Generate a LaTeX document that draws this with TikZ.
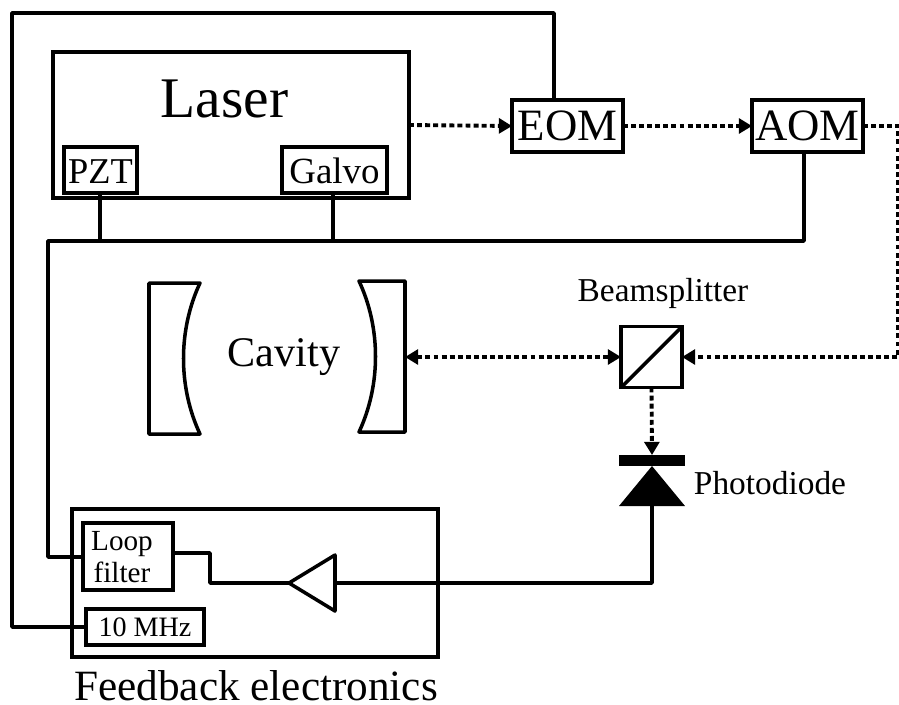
\documentclass[tikz,border=0pt]{standalone}
\usepackage{fontspec}
\setmainfont{Liberation Serif}
\usetikzlibrary{arrows.meta}

\begin{document}
\begin{tikzpicture}[x=0.02cm, y=-0.02cm]%
	\tikzstyle{box}=[rectangle, draw=black, line width=2pt, outer sep=0pt, inner sep=0pt];
	\tikzstyle{wire}=[draw=black, line width=2pt, line join=round];
	\tikzstyle{beam}=[draw=black, line width=2.2pt, dash pattern=on 2.8pt off 1.8pt, -{Triangle[length=7.5pt, width=8.5pt]}];
	\tikzstyle{twobeam}=[beam, {Triangle[length=7.5pt, width=8.5pt]}-{Triangle[length=7.5pt, width=8.5pt]}];
	\useasboundingbox (0, 0) rectangle (899, 704);
	\node[minimum width=7.12cm, minimum height=2.92cm] at (231, 125) [box] (laser) {};
	\node[font=\fontsize{32.7}{34}\selectfont] at (224.5, 99) (lasertext) {Laser};
	\node[minimum width=1.46cm, minimum height=0.92cm, text height=15.9pt, text depth=0pt, font=\fontsize{20.7}{22}\selectfont] at (100.5, 170) [box] (pzt) {PZT};
	\node[minimum width=2.1cm, minimum height=0.92cm, text height=15.9pt, text depth=0pt, font=\fontsize{21}{22}\selectfont] at (334.5, 170) [box] (galvo) {Galvo};
	\node[minimum width=2.22cm, minimum height=1.04cm, font=\fontsize{25.5}{27}\selectfont] at (567.5, 126) [box] (eom) {EOM};
	\node[minimum width=2.22cm, minimum height=1.04cm, font=\fontsize{25.5}{27}\selectfont] at (807.5, 126) [box] (aom) {AOM};
	\node[minimum width=7.32cm, minimum height=2.96cm] at (255, 583) [box] (feedback) {};
	\node[minimum width=1.8cm, minimum height=1.34cm] at (128, 556.5) [box] (loop) {};
	\node[align=center, font=\fontsize{16.6}{18}\selectfont] at (122, 557) (looptext) {Loop\\filter};
	\node[minimum width=2.36cm, minimum height=0.72cm, font=\fontsize{16}{18}\selectfont] at (145, 627) [box] (clock) {10 MHz};
	\node[font=\fontsize{24.6}{26}\selectfont] at (256, 686) (feedbacktext) {Feedback electronics};
	\node[minimum size=1.22cm] at (651.5, 357) [box] (splitter) {};
	\node[font=\fontsize{19}{21}\selectfont] at (663, 293) (splittertext) {Beamsplitter};
	\node[font=\fontsize{24}{26}\selectfont] at (284, 357) (cavitytext) {Cavity};
	\node[font=\fontsize{19}{21}\selectfont] at (770, 483) (diodetext) {Photodiode};
	\node[minimum width=1.32cm, minimum height=0.22cm, fill=black, draw=none, inner sep=0pt, outer sep=0pt] at (652, 460.5) (diode) {};
	\coordinate (diodebase) at (652, 506);
	\coordinate (ampin) at (335, 583);
	\coordinate (amptop) at (335, 555);
	\coordinate (ampbottom) at (335, 611);
	\coordinate (ampout) at (289, 583);
	\coordinate (mirror) at (405, 357);
	\coordinate (eomtap) at (554, 100);
	\coordinate (aomtap) at (804, 152);
	\coordinate (pzttap) at (100, 193);
	\coordinate (galvotap) at (333, 193);
	\coordinate (loopin) at (83, 557);
	\coordinate (loopout) at (173, 553);
	\draw[wire] (149, 283) -- (200, 283) .. controls (178, 330) and (178, 387) .. (200, 434) -- (149, 434) -- cycle;
	\draw[wire] (405, 281) -- (359, 281) .. controls (381, 328) and (381, 385) .. (359, 432) -- (405, 432) -- cycle;
	\draw[wire] (splitter.south west) -- (splitter.north east);
	\fill[black] (diode.south) -- (619, 506) -- (685, 506) -- cycle;
	\draw[wire] (ampout) -- (amptop) -- (ampbottom) -- cycle;
	\draw[wire] (eomtap) -- (554, 13) -- (12, 13) -- (12, 627) -- (clock.west);
	\draw[wire] (aomtap) -- (804, 241) -- (48, 241) -- (48, 557) -- (loopin);
	\draw[wire] (pzttap) -- (100, 241);
	\draw[wire] (galvotap) -- (333, 241);
	\draw[wire] (loopout) -- (210, 553) -- (210, 583) -- (ampout);
	\draw[wire] (ampin) -- (diodebase |- ampin) -- (diodebase);
	\draw[beam] (laser.east) -- (eom.west);
	\draw[beam] (eom.east) -- (aom.west);
	\draw[beam] (aom.east) -- (898, 126) -- (898, 357) -- (splitter.east);
	\draw[twobeam] (mirror) -- (splitter.west);
	\draw[beam] (splitter.south) -- (diode.north);
\end{tikzpicture}
\end{document}
